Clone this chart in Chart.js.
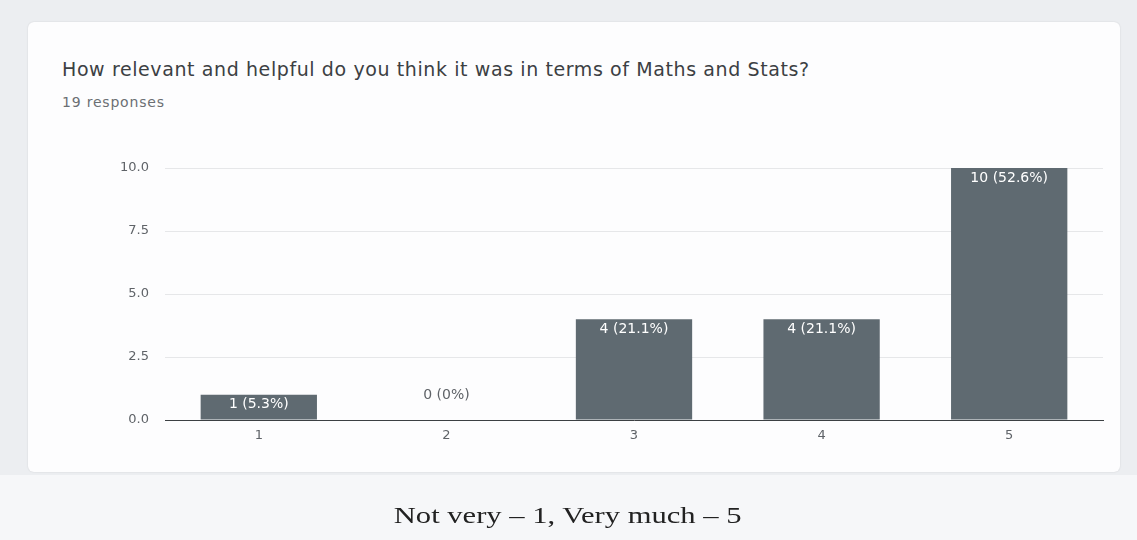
<!DOCTYPE html>
<html>
<head>
<meta charset="utf-8">
<script src="https://cdn.jsdelivr.net/npm/chart.js@4/dist/chart.umd.min.js"></script>
<style>
  html, body { margin: 0; padding: 0; }
  body { width: 1137px; height: 540px; background: #f6f7f9; position: relative; overflow: hidden; font-family: "DejaVu Sans", sans-serif; }
  .band { position: absolute; left: 0; top: 0; width: 1137px; height: 475px; background: #eceef1; }
  .card { position: absolute; left: 28px; top: 22px; width: 1092px; height: 450px; background: #fdfdfe; border-radius: 6px; box-shadow: 0 0 2px rgba(0,0,0,0.12); }
  .title { position: absolute; left: 62px; top: 58px; font-size: 19px; letter-spacing: 0.6px; color: #3c4043; white-space: nowrap; }
  .sub { position: absolute; left: 62px; top: 94px; font-size: 14px; letter-spacing: 0.8px; color: #6b6f73; white-space: nowrap; }
  .caption { position: absolute; left: 0; width: 1137px; top: 503px; text-align: center; font-family: "Liberation Serif", "Times New Roman", serif; font-size: 23px; color: #222; transform: scaleX(1.33); transform-origin: 571px 0; white-space: nowrap; }
  #chart { position: absolute; left: 0; top: 0; }
</style>
</head>
<body>
<div class="band"></div>
<div class="card"></div>
<div class="title">How relevant and helpful do you think it was in terms of Maths and Stats?</div>
<div class="sub">19 responses</div>
<canvas id="chart" width="1137" height="540"></canvas>
<div class="caption">Not very – 1, Very much – 5</div>
<script>
// Rating scale and how many respondents picked each value
const ratings = ['1', '2', '3', '4', '5'];
const counts = [1, 0, 4, 4, 10];
const percents = ['5.3%', '0%', '21.1%', '21.1%', '52.6%'];
const yTicks = [0, 2.5, 5, 7.5, 10];

const FONT = '"DejaVu Sans", sans-serif';

// Writes "n (p%)" on each bar: inside the top for tall bars, above for empty ones
const barLabels = {
  id: 'barLabels',
  afterDatasetsDraw(chart) {
    const ctx = chart.ctx;
    const meta = chart.getDatasetMeta(0);
    ctx.save();
    ctx.font = '14px ' + FONT;
    ctx.textAlign = 'center';
    ctx.textBaseline = 'middle';
    meta.data.forEach((bar, i) => {
      const text = counts[i] + ' (' + percents[i] + ')';
      if (counts[i] > 0) {
        ctx.fillStyle = '#ffffff';
        ctx.fillText(text, bar.x, bar.y + 10);
      } else {
        ctx.fillStyle = '#5f6368';
        ctx.fillText(text, bar.x, bar.y - 25);
      }
    });
    ctx.restore();
  }
};

new Chart(document.getElementById('chart'), {
  type: 'bar',
  data: {
    labels: ratings,
    datasets: [{
      data: counts,
      backgroundColor: '#5f6a71',
      categoryPercentage: 1,
      barPercentage: 0.62
    }]
  },
  options: {
    responsive: false,
    animation: false,
    layout: { padding: { left: 105, right: 34, top: 168, bottom: 90 } },
    plugins: { legend: { display: false }, tooltip: { enabled: false } },
    scales: {
      x: {
        grid: { display: false, drawTicks: false },
        border: { color: '#3c4043', width: 1 },
        ticks: { color: '#5f6368', font: { family: FONT, size: 13 }, padding: 8 },
        afterFit(s) { s.height = 30; }
      },
      y: {
        min: 0, max: 10,
        afterBuildTicks(s) { s.ticks = yTicks.map(v => ({ value: v })); },
        grid: { color: '#e6e7e9', drawTicks: false },
        border: { display: false },
        ticks: {
          color: '#5f6368', font: { family: FONT, size: 13 }, padding: 16,
          callback: v => Number(v).toFixed(1)
        },
        afterFit(s) { s.width = 60; }
      }
    }
  },
  plugins: [barLabels]
});
</script>
</body>
</html>
